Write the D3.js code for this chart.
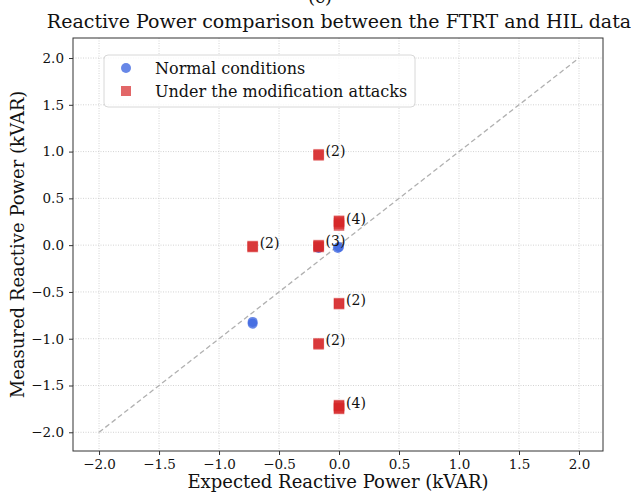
<!DOCTYPE html>
<html>
<head>
<meta charset="utf-8">
<script src="https://cdn.jsdelivr.net/npm/d3@7"></script>
<style>
  body { margin: 0; background: #fff; }
  svg text { font-family: "DejaVu Serif", serif; fill: #111; }
</style>
</head>
<body>
<div id="chart"></div>
<script>
// data
const ticks = [-2.0, -1.5, -1.0, -0.5, 0.0, 0.5, 1.0, 1.5, 2.0];

// normal conditions (blue)
const normalX = [-0.72, -0.72, -0.17, 0.0, -0.01];
const normalY = [-0.82, -0.84, -0.03, -0.02, -0.03];

// under the modification attacks (red)
const attackX = [-0.17, -0.17, 0.0, 0.0, 0.0, 0.0, -0.72, -0.72, -0.17, -0.17, -0.17, 0.0, 0.0, -0.17, -0.17, 0.0, 0.0, 0.0, 0.0];
const attackY = [0.96, 0.97, 0.21, 0.23, 0.25, 0.26, -0.02, -0.01, -0.02, -0.01, 0.0, -0.63, -0.62, -1.06, -1.05, -1.75, -1.74, -1.72, -1.71];

// count labels
const labelX = [-0.17, 0.0, -0.72, -0.17, 0.0, -0.17, 0.0];
const labelY = [0.96, 0.24, -0.02, 0.0, -0.63, -1.06, -1.73];
const labelN = [2, 4, 2, 3, 2, 2, 4];

const W = 631, H = 493;
const m = { top: 38, right: 28, bottom: 42, left: 73 };
const w = W - m.left - m.right, h = H - m.top - m.bottom;

const svg = d3.select('#chart').append('svg')
  .attr('width', W).attr('height', H);

const g = svg.append('g').attr('transform', `translate(${m.left},${m.top})`);

const x = d3.scaleLinear().domain([-2.217, 2.2]).range([0, w]);
const y = d3.scaleLinear().domain([-2.2, 2.214]).range([h, 0]);

// grid
g.append('g').selectAll('line').data(ticks).join('line')
  .attr('x1', d => x(d)).attr('x2', d => x(d)).attr('y1', 0).attr('y2', h)
  .attr('stroke', '#c8c8c8').attr('stroke-width', 0.8).attr('stroke-dasharray', '1,1.5');
g.append('g').selectAll('line').data(ticks).join('line')
  .attr('y1', d => y(d)).attr('y2', d => y(d)).attr('x1', 0).attr('x2', w)
  .attr('stroke', '#c8c8c8').attr('stroke-width', 0.8).attr('stroke-dasharray', '1,1.5');

// identity line
g.append('line')
  .attr('x1', x(-2)).attr('y1', y(-2)).attr('x2', x(2)).attr('y2', y(2))
  .attr('stroke', '#b0b0b0').attr('stroke-width', 1.3).attr('stroke-dasharray', '5,3');

// axes
const fmt = d3.format('.1f');
const xAxis = g.append('g').attr('transform', `translate(0,${h})`)
  .call(d3.axisBottom(x).tickValues(ticks).tickFormat(fmt).tickSize(4).tickPadding(4));
const yAxis = g.append('g')
  .call(d3.axisLeft(y).tickValues(ticks).tickFormat(fmt).tickSize(4).tickPadding(5));
[xAxis, yAxis].forEach(a => {
  a.select('.domain').remove();
  a.selectAll('text').style('font-size', '13.5px').style('font-family', '"DejaVu Serif", serif').attr('fill', '#111');
  a.selectAll('line').attr('stroke', '#333');
});

g.append('rect').attr('width', w).attr('height', h)
  .attr('fill', 'none').attr('stroke', '#333').attr('stroke-width', 1);

// points
const blue = 'rgb(65,105,225)', red = 'rgb(214,39,40)';
g.append('g').selectAll('circle').data(normalX).join('circle')
  .attr('cx', d => x(d)).attr('cy', (d, i) => y(normalY[i])).attr('r', 5)
  .attr('fill', blue).attr('fill-opacity', 0.8);

g.append('g').selectAll('rect').data(attackX).join('rect')
  .attr('x', d => x(d) - 5).attr('y', (d, i) => y(attackY[i]) - 5)
  .attr('width', 10).attr('height', 10)
  .attr('fill', red).attr('fill-opacity', 0.7)
  .attr('stroke', red).attr('stroke-opacity', 0.3).attr('stroke-width', 1);

g.append('g').selectAll('text').data(labelN).join('text')
  .attr('x', (d, i) => x(labelX[i]) + 7).attr('y', (d, i) => y(labelY[i]) + 1)
  .style('font-size', '14px')
  .text(d => `(${d})`);

// legend
const lg = svg.append('g').attr('transform', 'translate(104,55)');
lg.append('rect').attr('width', 311).attr('height', 52).attr('rx', 4)
  .attr('fill', '#fff').attr('fill-opacity', 0.8).attr('stroke', '#d8d8d8');
lg.append('circle').attr('cx', 22).attr('cy', 13).attr('r', 5)
  .attr('fill', blue).attr('fill-opacity', 0.8);
lg.append('rect').attr('x', 17).attr('y', 31).attr('width', 10).attr('height', 10)
  .attr('fill', red).attr('fill-opacity', 0.7);
lg.append('text').attr('x', 51).attr('y', 19).style('font-size', '16px').text('Normal conditions');
lg.append('text').attr('x', 51).attr('y', 42).style('font-size', '16px').text('Under the modification attacks');

// titles
svg.append('text').attr('x', 320).attr('y', 3).attr('text-anchor', 'middle')
  .style('font-size', '18px').text('(c)');
svg.append('text').attr('x', 339).attr('y', 28).attr('text-anchor', 'middle')
  .style('font-size', '19px').text('Reactive Power comparison between the FTRT and HIL data');
svg.append('text').attr('x', m.left + w / 2).attr('y', 488).attr('text-anchor', 'middle')
  .style('font-size', '18px').text('Expected Reactive Power (kVAR)');
svg.append('text').attr('transform', `translate(24,${m.top + h / 2}) rotate(-90)`)
  .attr('text-anchor', 'middle').style('font-size', '18px').text('Measured Reactive Power (kVAR)');
</script>
</body>
</html>
